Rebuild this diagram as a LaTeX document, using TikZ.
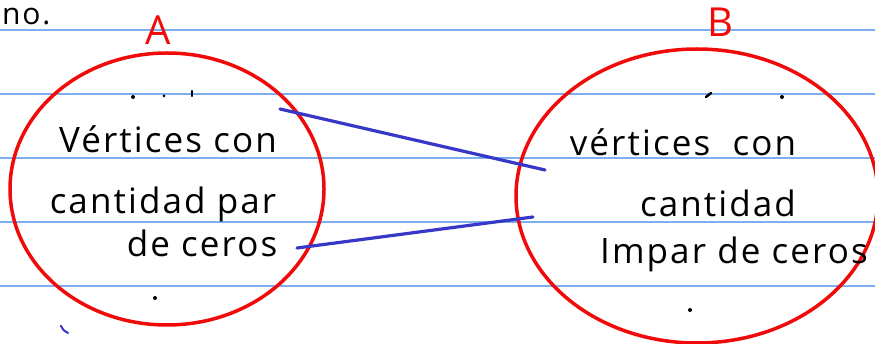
\documentclass[tikz,border=0pt]{standalone}
\usepackage{fontspec}
\setmainfont{Open Sans}[LetterSpace=6]
\usetikzlibrary{shapes.geometric}

\definecolor{ruleblue}{RGB}{125,175,240}
\definecolor{penred}{RGB}{240,10,10}
\definecolor{penblue}{RGB}{55,55,200}

\tikzset{
  handtext/.style={font=\fontsize{35}{38}\selectfont, inner sep=0pt, anchor=base},
  setlabel/.style={text=penred, font=\fontsize{40}{42}\selectfont, inner sep=0pt},
  setring/.style={draw=penred, line width=3.5pt, ellipse, inner sep=0pt},
  ruled/.style={draw=ruleblue, line width=1.3pt},
  link/.style={draw=penblue, line width=3.2pt, line cap=round},
}

\begin{document}
\begin{tikzpicture}[x=1pt, y=-1pt]
    \useasboundingbox[fill=white] (0,0) rectangle (875,344);

    % Ruled paper
    \foreach \y in {30,94,158,222,286}
        \draw[ruled] (0,\y) -- (875,\y);

    % Leftover text from the line above
    \node[handtext, font=\fontsize{30}{32}\selectfont, anchor=base west] (prev) at (2,25) {no.};

    % Set A
    \node[setring, minimum width=314pt, minimum height=272pt] (A) at (167,189) {};
    \node[setlabel] (labA) at (158,30) {A};
    \node[handtext] (a1) at (168,153) {Vértices con};
    \node[handtext] (a2) at (163,214) {cantidad par};
    \node[handtext] (a3) at (202,257) {de ceros};

    % Set B
    \node[setring, minimum width=362pt, minimum height=294pt] (B) at (697,196) {};
    \node[setlabel] (labB) at (720,22) {B};
    \node[handtext] (b1) at (683,156) {vértices \ con};
    \node[handtext] (b2) at (718,217) {cantidad};
    \node[handtext] (b3) at (734,264) {Impar de ceros};

    % Elements (dots)
    \fill (133,97) circle (2pt);
    \fill (164,96) circle (1.5pt);
    \draw[line width=2.5pt, line cap=round] (192,91) -- (192,96);
    \fill (155,298) circle (2pt);
    \draw[line width=2.5pt, line cap=round] (706,97) -- (711,93);
    \fill (782,97) circle (2pt);
    \fill (690,310) circle (2pt);

    % Connectors between the sets
    \coordinate (p1) at (280,109);
    \coordinate (q1) at (545,170);
    \coordinate (p2) at (297,248);
    \coordinate (q2) at (533,217);
    \draw[link] (p1) -- (q1);
    \draw[link] (p2) -- (q2);

    % Start of a mark at the bottom
    \draw[penblue, line width=2pt, line cap=round] (68,333) arc[start angle=110, end angle=160, radius=12];
\end{tikzpicture}
\end{document}
